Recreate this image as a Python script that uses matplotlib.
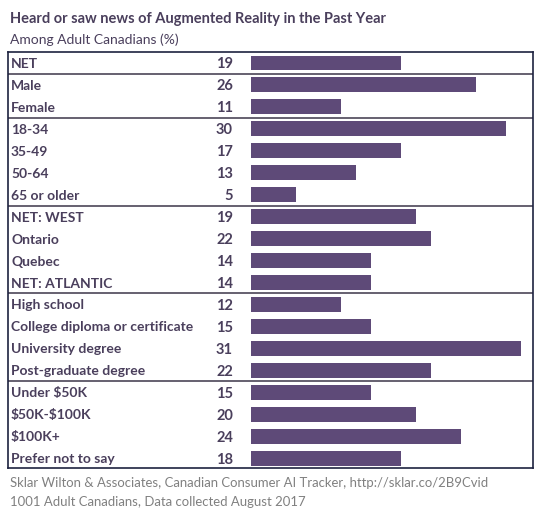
import matplotlib
matplotlib.use("Agg")
import matplotlib.pyplot as plt

# ---- data ----
categories = ["NET", "Male", "Female", "18-34", "35-49", "50-64", "65 or older",
              "NET: WEST", "Ontario", "Quebec", "NET: ATLANTIC",
              "High school", "College diploma or certificate", "University degree",
              "Post-graduate degree", "Under $50K", "$50K-$100K", "$100K+",
              "Prefer not to say"]
labels_pct = [19, 26, 11, 30, 17, 13, 5, 19, 22, 14, 14, 12, 15, 31, 22, 15, 20, 24, 18]
# bar lengths as drawn in the picture (percent, estimated)
bar_pct = [17.2, 25.9, 10.3, 29.3, 17.2, 12.1, 5.2, 19.0, 20.7, 13.8, 13.8,
           10.3, 13.8, 31.0, 20.7, 13.8, 19.0, 24.1, 17.2]
group_breaks = [0.5, 2.5, 6.5, 10.5, 14.5]

title = "Heard or saw news of Augmented Reality in the Past Year"
subtitle = "Among Adult Canadians (%)"
source1 = "Sklar Wilton & Associates, Canadian Consumer AI Tracker, http://sklar.co/2B9Cvid"
source2 = "1001 Adult Canadians, Data collected August 2017"

# ---- style ----
W, H = 549, 523
FONT = ["Lato", "DejaVu Sans"]
bar_color = "#5E4A78"
text_color = "#4A3F5C"
frame_color = "#1E2240"
sep_color = "#4C4558"
source_color = "#808080"

fig = plt.figure(figsize=(W / 100, H / 100), dpi=100)
fig.patch.set_facecolor("white")

x0, x1 = 8, 533
y0, y1 = 52, 468
bar_start = 251
px_per_unit = 8.7
ax = fig.add_axes([x0 / W, 1 - y1 / H, (x1 - x0) / W, (y1 - y0) / H])
ax.set_xlim(-(bar_start - x0) / px_per_unit, (x1 - bar_start) / px_per_unit)
ax.set_ylim(18.45, -0.5)
ax.set_xticks([])
ax.set_yticks([])
for s in ax.spines.values():
    s.set_color(frame_color)
    s.set_linewidth(1.2)

ypos = list(range(len(categories)))
ax.barh(ypos, bar_pct, height=0.68, color=bar_color, left=0)

trans = ax.get_yaxis_transform()
lab_x = (11 - x0) / (x1 - x0)
val_x = (233 - x0) / (x1 - x0)
for y, c, v in zip(ypos, categories, labels_pct):
    ax.text(lab_x, y, c, transform=trans, ha="left", va="center_baseline",
            fontsize=10, fontweight="bold", color=text_color, family=FONT,
            parse_math=False)
    ax.text(val_x, y, str(v), transform=trans, ha="right", va="center_baseline",
            fontsize=10.5, fontweight="bold", color=text_color, family=FONT)

for b in group_breaks:
    ax.axhline(b, color=sep_color, linewidth=1.2)

fig.text(10 / W, 1 - 18 / H, title, ha="left", va="center_baseline", fontsize=10.5,
         fontweight="bold", color=text_color, family=FONT)
fig.text(10 / W, 1 - 39 / H, subtitle, ha="left", va="center_baseline", fontsize=10,
         color=text_color, family=FONT)
fig.text(10 / W, 1 - 482 / H, source1, ha="left", va="center_baseline", fontsize=9.45,
         color=source_color, family=FONT)
fig.text(10 / W, 1 - 501 / H, source2, ha="left", va="center_baseline", fontsize=9.45,
         color=source_color, family=FONT)

fig.savefig("out.png", dpi=100, facecolor="white")
